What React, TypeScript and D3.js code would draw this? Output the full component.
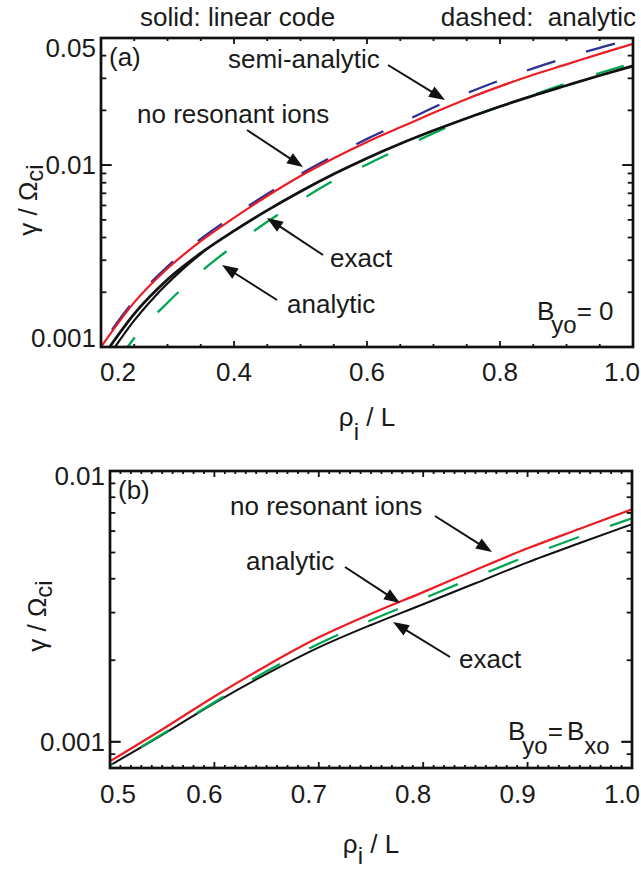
import React from "react";
import * as d3 from "d3";

const FONT = "'Liberation Sans', Arial, Helvetica, sans-serif";
const RED = "#ec1c24";
const BLUE = "#2e3192";
const GREEN = "#00a651";

// ---------- Panel (a) data ----------
const aX = [0.2, 0.25, 0.3, 0.35, 0.4, 0.45, 0.5, 0.55, 0.6, 0.65, 0.7, 0.75, 0.8, 0.85, 0.9, 0.95, 1.0];
const aNoResonant = [0.001, 0.00176, 0.0027, 0.00382, 0.00513, 0.00676, 0.00871, 0.01091, 0.0134, 0.01614, 0.0194, 0.02312, 0.0271, 0.0314, 0.0358, 0.0409, 0.0465];
const aSemiAnalytic = [0.00102, 0.0018, 0.00277, 0.00393, 0.00528, 0.00693, 0.00893, 0.01124, 0.01394, 0.01695, 0.02076, 0.02485, 0.02927, 0.03407, 0.03902, 0.04417, 0.04929];
const aExactX = [0.213, 0.25, 0.3, 0.35, 0.4, 0.45, 0.5, 0.55, 0.6, 0.65, 0.7, 0.75, 0.8, 0.85, 0.9, 0.95, 1.0];
const aExact = [0.001, 0.00152, 0.00235, 0.00328, 0.00435, 0.00564, 0.00716, 0.00893, 0.01092, 0.01311, 0.01549, 0.01811, 0.021, 0.0241, 0.0274, 0.0311, 0.0351];
const aExactAltX = [0.221, 0.25, 0.28, 0.32, 0.36];
const aExactAlt = [0.001, 0.0014, 0.00188, 0.00262, 0.00348];
const aAnalyticX = [0.24, 0.25, 0.3, 0.35, 0.4, 0.45, 0.5, 0.55, 0.6, 0.65, 0.7, 0.75, 0.8, 0.85, 0.9, 0.95, 1.0];
const aAnalytic = [0.001, 0.00112, 0.00175, 0.00259, 0.00361, 0.00488, 0.0064, 0.00822, 0.01009, 0.01236, 0.01496, 0.01799, 0.021, 0.0243, 0.0282, 0.0321, 0.0364];
const aXTicks = [0.2, 0.4, 0.6, 0.8, 1.0];
const aXTickLabels = ["0.2", "0.4", "0.6", "0.8", "1.0"];
const aYTicks = [0.001, 0.01, 0.05];
const aYTickLabels = ["0.001", "0.01", "0.05"];

// ---------- Panel (b) data ----------
const bX = [0.5, 0.55, 0.6, 0.65, 0.7, 0.75, 0.8, 0.85, 0.9, 0.95, 1.0];
const bNoResonant = [0.000847, 0.00111, 0.00147, 0.00191, 0.00243, 0.00297, 0.00357, 0.00431, 0.00518, 0.00612, 0.00722];
const bExact = [0.000818, 0.00106, 0.00139, 0.00178, 0.00223, 0.0027, 0.00322, 0.00385, 0.0046, 0.00542, 0.00636];
const bAnalytic = [0.000818, 0.001065, 0.0014, 0.00182, 0.0023, 0.00281, 0.00338, 0.00406, 0.00485, 0.00572, 0.00669];
const bXTicks = [0.5, 0.6, 0.7, 0.8, 0.9, 1.0];
const bXTickLabels = ["0.5", "0.6", "0.7", "0.8", "0.9", "1.0"];
const bYTicks = [0.001, 0.01];
const bYTickLabels = ["0.001", "0.01"];

type Series = { xs: number[]; ys: number[]; color: string; width: number; dash?: string; offset?: number };
type Arrow = { from: [number, number]; to: [number, number] };
type Label = { text: string; x: number; y: number };

type PanelProps = {
  id: string;
  left: number; right: number; top: number; bottom: number;
  xDomain: [number, number]; yDomain: [number, number];
  xTicks: number[]; xTickLabels: string[]; xMinorStep: number;
  yTicks: number[]; yTickLabels: string[];
  series: Series[];
  xLabelShift: number; xLabelMin: number; xLabelMax: number;
  xLabelDy: number; xTitleDy: number; xSubDy: number;
  yLabelTopMin: number;
  yTitleCenter: number; yTitleX: number;
  panelLabel: string;
  arrows: Arrow[]; labels: Label[];
  bfield: React.ReactNode;
};

function ArrowMark({ from, to }: Arrow) {
  const [x1, y1] = from;
  const [x2, y2] = to;
  const ang = Math.atan2(y2 - y1, x2 - x1);
  const L = 16, Wd = 6;
  const bx = x2 - L * Math.cos(ang), by = y2 - L * Math.sin(ang);
  const px = -Math.sin(ang) * Wd, py = Math.cos(ang) * Wd;
  return (
    <g>
      <line x1={x1} y1={y1} x2={bx + 3 * Math.cos(ang)} y2={by + 3 * Math.sin(ang)} stroke="#111" strokeWidth={2} />
      <polygon points={`${x2},${y2} ${bx + px},${by + py} ${bx - px},${by - py}`} fill="#111" />
    </g>
  );
}

function Panel(p: PanelProps) {
  const xs = d3.scaleLinear().domain(p.xDomain).range([p.left, p.right]);
  const ys = d3.scaleLog().domain(p.yDomain).range([p.bottom, p.top]);
  const line = d3
    .line<[number, number]>()
    .x((d) => xs(d[0]))
    .y((d) => ys(d[1]))
    .curve(d3.curveMonotoneX);

  const xMinor: number[] = [];
  const n = Math.round((p.xDomain[1] - p.xDomain[0]) / p.xMinorStep);
  for (let i = 0; i <= n; i++) xMinor.push(p.xDomain[0] + i * p.xMinorStep);
  const yMinor: number[] = [];
  for (let e = -5; e <= 0; e++) {
    for (let m = 1; m <= 9; m++) {
      const v = m * Math.pow(10, e);
      if (v > p.yDomain[0] * 1.0001 && v < p.yDomain[1] * 0.9999) yMinor.push(v);
    }
  }
  const xMajLen = 6, xMinLen = 3;
  const yMajLen = 10.5, yMinLen = 5.3;
  const clipId = `clip-${p.id}`;
  const isMajorX = (v: number) => p.xTicks.some((t) => Math.abs(t - v) < 1e-6);
  const isMajorY = (v: number) => p.yTicks.some((t) => Math.abs(t / v - 1) < 1e-6);

  return (
    <g>
      <defs>
        <clipPath id={clipId}>
          <rect x={p.left} y={p.top} width={p.right - p.left} height={p.bottom - p.top} />
        </clipPath>
      </defs>
      <g clipPath={`url(#${clipId})`}>
        {p.series.map((s, i) => (
          <path
            key={i}
            d={line(s.xs.map((x, j) => [x, s.ys[j]] as [number, number])) || ""}
            fill="none"
            stroke={s.color}
            strokeWidth={s.width}
            strokeDasharray={s.dash}
            strokeDashoffset={s.offset}
          />
        ))}
      </g>
      <g stroke="#111" strokeWidth={1.8}>
        {xMinor.map((v, i) => {
          const len = isMajorX(v) ? xMajLen : xMinLen;
          const x = xs(v);
          return (
            <g key={`xt${i}`}>
              <line x1={x} x2={x} y1={p.bottom} y2={p.bottom - len} />
              <line x1={x} x2={x} y1={p.top} y2={p.top + len} />
            </g>
          );
        })}
        {[...yMinor, ...p.yTicks].map((v, i) => {
          const len = isMajorY(v) ? yMajLen : yMinLen;
          const y = ys(v);
          return (
            <g key={`yt${i}`}>
              <line x1={p.left} x2={p.left + len} y1={y} y2={y} />
              <line x1={p.right} x2={p.right - len} y1={y} y2={y} />
            </g>
          );
        })}
      </g>
      <rect x={p.left} y={p.top} width={p.right - p.left} height={p.bottom - p.top} fill="none" stroke="#111" strokeWidth={2.7} />
      <g fontFamily={FONT} fontSize={26} fill="#1a1a1a">
        {p.xTicks.map((v, i) => {
          const x = Math.min(p.xLabelMax, Math.max(p.xLabelMin, xs(v) + p.xLabelShift));
          return (
            <text key={`xl${i}`} x={x} y={p.bottom + p.xLabelDy} textAnchor="middle">
              {p.xTickLabels[i]}
            </text>
          );
        })}
        {p.yTicks.map((v, i) => {
          const y = Math.min(p.bottom, Math.max(p.top + p.yLabelTopMin, ys(v) + 9));
          return (
            <text key={`yl${i}`} x={p.left - 5} y={y} textAnchor="end">
              {p.yTickLabels[i]}
            </text>
          );
        })}
        <text x={(p.left + p.right) / 2} y={p.bottom + p.xTitleDy} textAnchor="middle">
          ρ<tspan dy={p.xSubDy} fontSize={24}>i</tspan>
          <tspan dy={-p.xSubDy}> / L</tspan>
        </text>
        <text transform={`translate(${p.yTitleX},${p.yTitleCenter}) rotate(-90)`} textAnchor="middle">
          γ / Ω<tspan dy={6} fontSize={24}>ci</tspan>
        </text>
        <text x={p.left + 8} y={p.top + 28}>{p.panelLabel}</text>
        {p.labels.map((l, i) => (
          <text key={`an${i}`} x={l.x} y={l.y}>
            {l.text}
          </text>
        ))}
        {p.bfield}
      </g>
      {p.arrows.map((a, i) => (
        <ArrowMark key={`ar${i}`} from={a.from} to={a.to} />
      ))}
    </g>
  );
}

export default function App() {
  return (
    <svg width={641} height={871} viewBox="0 0 641 871" style={{ position: "absolute", left: 0, top: 0, background: "#fff" }}>
      <rect x={0} y={0} width={641} height={871} fill="#fff" />
      <g fontFamily={FONT} fontSize={26} fill="#1a1a1a">
        <text x={140} y={26}>solid: linear code</text>
        <text x={636} y={26} textAnchor="end" style={{ whiteSpace: "pre" }}>{"dashed:  analytic"}</text>
      </g>
      <Panel
        id="a"
        left={101} right={633} top={38} bottom={347}
        xDomain={[0.2, 1.0]} yDomain={[0.001, 0.05]}
        xTicks={aXTicks} xTickLabels={aXTickLabels} xMinorStep={0.05}
        yTicks={aYTicks} yTickLabels={aYTickLabels}
        xLabelShift={0} xLabelMin={118} xLabelMax={622}
        xLabelDy={34} xTitleDy={79} xSubDy={14}
        yLabelTopMin={19}
        yTitleCenter={200} yTitleX={37}
        panelLabel="(a)"
        series={[
          { xs: aAnalyticX, ys: aAnalytic, color: GREEN, width: 2.3, dash: "29 34", offset: 17 },
          { xs: aExactAltX, ys: aExactAlt, color: "#111", width: 2.2 },
          { xs: aExactX, ys: aExact, color: "#111", width: 2.8 },
          { xs: aX, ys: aSemiAnalytic, color: BLUE, width: 2.3, dash: "30 32", offset: 43 },
          { xs: aX, ys: aNoResonant, color: RED, width: 2.2 },
        ]}
        labels={[
          { text: "semi-analytic", x: 228, y: 68 },
          { text: "no resonant ions", x: 137, y: 123 },
          { text: "exact", x: 330, y: 267 },
          { text: "analytic", x: 287, y: 313 },
        ]}
        arrows={[
          { from: [388, 65], to: [445, 100] },
          { from: [247, 130], to: [303, 167] },
          { from: [323, 255], to: [267, 218] },
          { from: [277, 300], to: [222, 265] },
        ]}
        bfield={
          <text x={537} y={320}>
            B<tspan dx={-3} dy={13} fontSize={24}>yo</tspan>
            <tspan dy={-13}>= 0</tspan>
          </text>
        }
      />
      <Panel
        id="b"
        left={110} right={632} top={471} bottom={768}
        xDomain={[0.5, 1.0]} yDomain={[0.0008, 0.01]}
        xTicks={bXTicks} xTickLabels={bXTickLabels} xMinorStep={0.01}
        yTicks={bYTicks} yTickLabels={bYTickLabels}
        xLabelShift={-10} xLabelMin={118} xLabelMax={624}
        xLabelDy={35} xTitleDy={85} xSubDy={11}
        yLabelTopMin={14}
        yTitleCenter={616} yTitleX={46}
        panelLabel="(b)"
        series={[
          { xs: bX, ys: bExact, color: "#111", width: 2 },
          { xs: bX, ys: bAnalytic, color: GREEN, width: 2.3, dash: "32 33", offset: 29 },
          { xs: bX, ys: bNoResonant, color: RED, width: 2.2 },
        ]}
        labels={[
          { text: "no resonant ions", x: 230, y: 515 },
          { text: "analytic", x: 246, y: 570 },
          { text: "exact", x: 459, y: 668 },
        ]}
        arrows={[
          { from: [435, 516], to: [492, 552] },
          { from: [345, 567], to: [400, 603] },
          { from: [450, 657], to: [393, 622] },
        ]}
        bfield={
          <text x={508} y={740}>
            B<tspan dx={-3} dy={14} fontSize={24}>yo</tspan>
            <tspan dy={-14}>=</tspan>
            <tspan dx={4}>B</tspan>
            <tspan dy={14} fontSize={24}>xo</tspan>
          </text>
        }
      />
    </svg>
  );
}
